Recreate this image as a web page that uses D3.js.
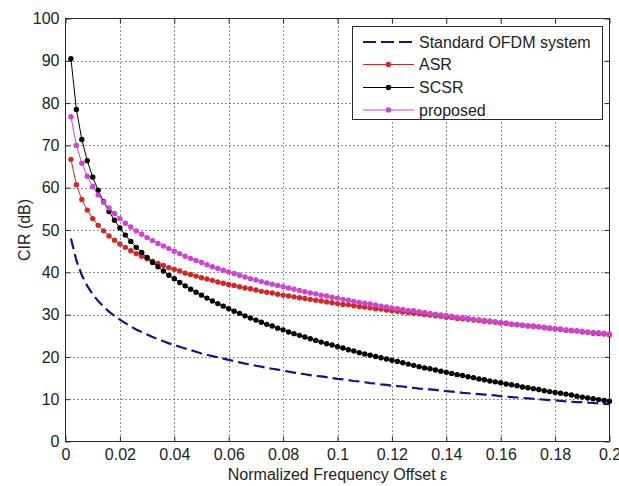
<!DOCTYPE html>
<html><head><meta charset="utf-8">
<script src="https://cdn.jsdelivr.net/npm/d3@7/dist/d3.min.js"></script>
<style>
html,body{margin:0;padding:0;background:#fff;}
svg{display:block;}
text{font-family:"Liberation Sans",Arial,Helvetica,sans-serif;}
</style>
</head><body>
<svg id="chart" width="619" height="486"></svg>
<script>
// ---- data ----
const epsilon = [0.002,0.004,0.006,0.008,0.010,0.012,0.014,0.016,0.018,0.020,
 0.022,0.024,0.026,0.028,0.030,0.032,0.034,0.036,0.038,0.040,
 0.042,0.044,0.046,0.048,0.050,0.052,0.054,0.056,0.058,0.060,
 0.062,0.064,0.066,0.068,0.070,0.072,0.074,0.076,0.078,0.080,
 0.082,0.084,0.086,0.088,0.090,0.092,0.094,0.096,0.098,0.100,
 0.102,0.104,0.106,0.108,0.110,0.112,0.114,0.116,0.118,0.120,
 0.122,0.124,0.126,0.128,0.130,0.132,0.134,0.136,0.138,0.140,
 0.142,0.144,0.146,0.148,0.150,0.152,0.154,0.156,0.158,0.160,
 0.162,0.164,0.166,0.168,0.170,0.172,0.174,0.176,0.178,0.180,
 0.182,0.184,0.186,0.188,0.190,0.192,0.194,0.196,0.198,0.200];

const standardOFDM = [48.0,42.8,39.3,36.8,34.8,33.2,31.9,30.7,29.7,28.8,
 28.0,27.2,26.5,25.9,25.3,24.7,24.2,23.7,23.2,22.8,
 22.4,22.0,21.6,21.2,20.8,20.5,20.2,19.9,19.6,19.3,
 19.0,18.7,18.4,18.2,17.9,17.7,17.4,17.2,17.0,16.8,
 16.5,16.3,16.1,15.9,15.7,15.5,15.4,15.2,15.0,14.8,
 14.7,14.5,14.3,14.2,14.0,13.8,13.7,13.5,13.4,13.2,
 13.1,13.0,12.8,12.7,12.5,12.4,12.3,12.2,12.0,11.9,
 11.8,11.7,11.5,11.4,11.3,11.2,11.1,11.0,10.9,10.7,
 10.6,10.5,10.4,10.3,10.2,10.1,10.0,9.9,9.8,9.7,
 9.6,9.5,9.4,9.3,9.3,9.2,9.1,9.0,8.9,8.8];

const asr = [66.7,60.7,57.2,54.7,52.7,51.1,49.8,48.6,47.6,46.7,
 45.9,45.1,44.4,43.8,43.2,42.6,42.1,41.6,41.1,40.7,
 40.3,39.8,39.5,39.1,38.7,38.4,38.1,37.7,37.4,37.1,
 36.9,36.6,36.3,36.1,35.8,35.5,35.3,35.1,34.8,34.6,
 34.4,34.2,34.0,33.8,33.6,33.4,33.2,33.0,32.8,32.6,
 32.4,32.3,32.1,31.9,31.8,31.6,31.4,31.3,31.1,30.9,
 30.8,30.6,30.5,30.3,30.2,30.0,29.9,29.7,29.6,29.4,
 29.3,29.1,29.0,28.9,28.7,28.6,28.4,28.3,28.2,28.0,
 27.9,27.7,27.6,27.5,27.3,27.2,27.1,26.9,26.8,26.6,
 26.5,26.3,26.2,26.1,25.9,25.8,25.6,25.5,25.4,25.2];

const scsr = [90.5,78.5,71.4,66.4,62.5,59.4,56.7,54.4,52.3,50.5,
 48.8,47.3,45.9,44.7,43.5,42.3,41.3,40.3,39.3,38.5,
 37.6,36.8,36.0,35.3,34.6,33.9,33.2,32.6,32.0,31.4,
 30.8,30.3,29.7,29.2,28.7,28.2,27.7,27.3,26.8,26.4,
 25.9,25.5,25.1,24.7,24.3,23.9,23.5,23.1,22.8,22.4,
 22.1,21.7,21.4,21.0,20.7,20.4,20.1,19.8,19.5,19.2,
 18.9,18.6,18.3,18.0,17.7,17.4,17.2,16.9,16.6,16.4,
 16.1,15.8,15.6,15.3,15.1,14.8,14.6,14.3,14.1,13.9,
 13.6,13.4,13.2,12.9,12.7,12.5,12.3,12.0,11.8,11.6,
 11.4,11.2,11.0,10.7,10.5,10.3,10.1,9.9,9.7,9.5];

const proposed = [76.8,70.0,65.8,62.7,60.3,58.3,56.6,55.2,53.9,52.7,
 51.6,50.7,49.8,49.0,48.2,47.5,46.8,46.2,45.6,45.0,
 44.4,43.8,43.3,42.8,42.3,41.8,41.3,40.9,40.5,40.1,
 39.7,39.3,38.9,38.5,38.2,37.8,37.5,37.2,36.9,36.6,
 36.3,36.0,35.7,35.4,35.1,34.9,34.6,34.4,34.1,33.9,
 33.6,33.4,33.1,32.9,32.7,32.5,32.3,32.0,31.8,31.6,
 31.4,31.2,31.0,30.9,30.7,30.5,30.3,30.1,29.9,29.8,
 29.6,29.4,29.3,29.1,28.9,28.8,28.6,28.5,28.3,28.1,
 28.0,27.8,27.7,27.5,27.4,27.3,27.1,27.0,26.8,26.7,
 26.6,26.4,26.3,26.2,26.1,25.9,25.8,25.7,25.6,25.4];

const xTicks = [0,0.02,0.04,0.06,0.08,0.1,0.12,0.14,0.16,0.18,0.2];
const xTickLabels = ["0","0.02","0.04","0.06","0.08","0.1","0.12","0.14","0.16","0.18","0.2"];
const yTicks = [0,10,20,30,40,50,60,70,80,90,100];
const yTickLabels = ["0","10","20","30","40","50","60","70","80","90","100"];
const seriesNames = ["Standard OFDM system","ASR","SCSR","proposed"];
const xTitle = "Normalized Frequency Offset \u03b5";
const yTitle = "CIR (dB)";

// ---- styles ----
const seriesStyle = [
  {color:"#14148a", width:2.2, dash:"11,5", marker:false},
  {color:"#d02828", width:1, dash:null, marker:true},
  {color:"#000000", width:1, dash:null, marker:true},
  {color:"#cc44d0", width:1, dash:null, marker:true}
];
const seriesData = [standardOFDM, asr, scsr, proposed];

const svg = d3.select("#chart");
svg.append("rect").attr("width",619).attr("height",486).attr("fill","#fff");

const L = 65.5, R = 609.5, T = 18.5, B = 441.5;
const x = d3.scaleLinear().domain([0,0.2]).range([L,R]);
const y = d3.scaleLinear().domain([0,100]).range([B,T]);

const axisColor = "#2a2a2a";
const fontSize = 16;

// grid
const grid = svg.append("g");
grid.selectAll("line.gx").data(xTicks.filter(d=>d>0 && d<0.2)).join("line")
  .attr("x1",d=>Math.round(x(d))+0.5).attr("x2",d=>Math.round(x(d))+0.5)
  .attr("y1",T).attr("y2",B)
  .attr("stroke","#222").attr("stroke-width",1).attr("stroke-dasharray","1,3");
grid.selectAll("line.gy").data(yTicks.filter(d=>d>0 && d<100)).join("line")
  .attr("y1",d=>Math.round(y(d))+0.5).attr("y2",d=>Math.round(y(d))+0.5)
  .attr("x1",L).attr("x2",R)
  .attr("stroke","#222").attr("stroke-width",1).attr("stroke-dasharray","1,3");

// axes with inward ticks
const fmtX = (d)=>xTickLabels[xTicks.indexOf(d)];
const fmtY = (d)=>yTickLabels[yTicks.indexOf(d)];
const gB = svg.append("g").attr("transform",`translate(0,${B})`)
  .call(d3.axisBottom(x).tickValues(xTicks).tickFormat(fmtX).tickSizeInner(-5).tickSizeOuter(0).tickPadding(7));
const gL = svg.append("g").attr("transform",`translate(${L},0)`)
  .call(d3.axisLeft(y).tickValues(yTicks).tickFormat(fmtY).tickSizeInner(-5).tickSizeOuter(0).tickPadding(6));
const gT = svg.append("g").attr("transform",`translate(0,${T})`)
  .call(d3.axisTop(x).tickValues(xTicks).tickFormat("").tickSizeInner(-5).tickSizeOuter(0));
const gR = svg.append("g").attr("transform",`translate(${R},0)`)
  .call(d3.axisRight(y).tickValues(yTicks).tickFormat("").tickSizeInner(-5).tickSizeOuter(0));
[gB,gL,gT,gR].forEach(g=>{
  g.select(".domain").remove();
  g.selectAll(".tick line").attr("stroke",axisColor);
  g.selectAll("text").attr("font-size",fontSize).attr("fill","#222")
    .attr("font-family","'Liberation Sans',Arial,sans-serif");
});

// frame
svg.append("rect").attr("x",L).attr("y",T).attr("width",R-L).attr("height",B-T)
  .attr("fill","none").attr("stroke",axisColor).attr("stroke-width",1);

// series
const line = d3.line().x((d,i)=>x(epsilon[i])).y(d=>y(d));
seriesData.forEach((vals,si)=>{
  const st = seriesStyle[si];
  const g = svg.append("g");
  g.append("path").datum(vals).attr("d",line).attr("fill","none")
    .attr("stroke",st.color).attr("stroke-width",st.width)
    .attr("stroke-dasharray",st.dash);
  if(st.marker){
    g.selectAll("circle").data(vals).join("circle")
      .attr("cx",(d,i)=>x(epsilon[i])).attr("cy",d=>y(d)).attr("r",2.7)
      .attr("fill",st.color);
  }
});

// titles
svg.append("text").attr("x",(L+R)/2).attr("y",480).attr("text-anchor","middle")
  .attr("font-size",fontSize).attr("fill","#222").text(xTitle);
svg.append("text").attr("transform",`translate(24,${(T+B)/2}) rotate(-90)`)
  .attr("text-anchor","middle").attr("dominant-baseline","central")
  .attr("font-size",fontSize).attr("fill","#222").text(yTitle);

// legend
const lg = svg.append("g");
lg.append("rect").attr("x",352.5).attr("y",26.5).attr("width",250).attr("height",93)
  .attr("fill","#fff").attr("stroke",axisColor).attr("stroke-width",1);
const rowY = [42,64.5,87.5,110];
seriesNames.forEach((name,i)=>{
  const st = seriesStyle[i];
  lg.append("line").attr("x1",363).attr("x2",414).attr("y1",rowY[i]).attr("y2",rowY[i])
    .attr("stroke",st.color).attr("stroke-width",st.width).attr("stroke-dasharray",st.dash ? "13,5" : null);
  if(st.marker) lg.append("circle").attr("cx",388.5).attr("cy",rowY[i]).attr("r",2.7).attr("fill",st.color);
  lg.append("text").attr("x",419).attr("y",rowY[i]).attr("dominant-baseline","central")
    .attr("font-size",fontSize).attr("fill","#222").text(name);
});
</script>
</body></html>
